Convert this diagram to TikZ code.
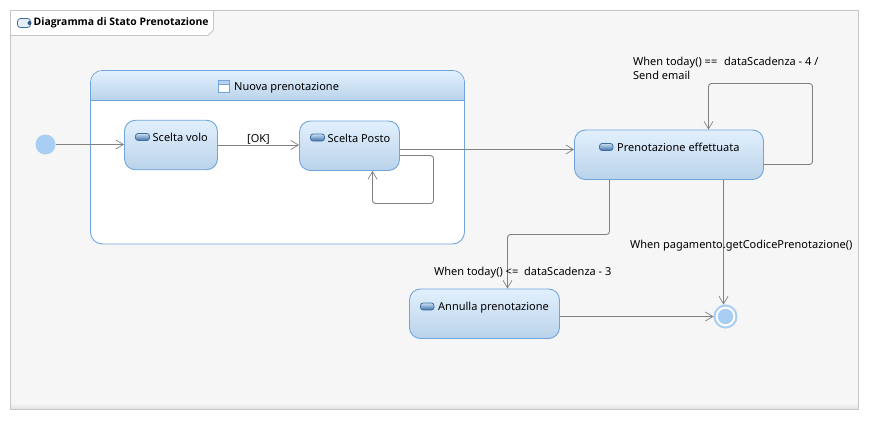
\documentclass[tikz,border=0pt]{standalone}
\usepackage{fontspec}
\setmainfont{Noto Sans}
\newfontfamily\titlefont{Open Sans}
\usetikzlibrary{arrows.meta}
\definecolor{frameline}{HTML}{C6C6C6}
\definecolor{framebg}{HTML}{F6F6F6}
\definecolor{stateline}{HTML}{6FA5DC}
\definecolor{gradtop}{HTML}{E2F0FD}
\definecolor{gradbot}{HTML}{BAD3EA}
\definecolor{conn}{HTML}{808080}
\definecolor{dot}{HTML}{A9CEF4}
\definecolor{icondark}{HTML}{3F6FA5}
\definecolor{iconlight}{HTML}{C9DFF3}
\tikzset{
  x=1pt,y=-1pt,
  statebox/.style={draw=stateline,line width=.9pt,rounded corners=11pt,top color=gradtop,bottom color=gradbot,minimum height=49.5pt,inner sep=0pt,text width=0pt},
  txt/.style={font=\fontsize{11}{13}\selectfont,text=black,inner sep=0pt,anchor=west},
  conn/.style={draw=conn,line width=.9pt,rounded corners=3pt},
  arr/.style={-{Straight Barb[length=7.5pt,width=9pt,line width=.7pt]}},
  pill/.style={draw=icondark,line width=.8pt,rounded corners=2.6pt,top color=iconlight,bottom color=icondark}
}
\begin{document}
\begin{tikzpicture}
\useasboundingbox (0,0) rectangle (869,420);
\fill[white] (0,0) rectangle (869,420);
\draw[draw=frameline,fill=framebg,line width=.9pt] (10.5,10.5) rectangle (858,409);
\shade[top color=framebg,bottom color=frameline!35!framebg] (11,403) rectangle (857.5,408.5);
\draw[draw=frameline,fill=white,line width=.9pt] (10.5,10.5) -- (213.5,10.5) -- (213.5,30) -- (208,35.5) -- (10.5,35.5) -- cycle;
\draw[draw=icondark,line width=.8pt,rounded corners=3pt,fill=iconlight!50!white] (17.5,18.5) rectangle (30.5,27.5);
\fill[icondark!80!black] (29.5,23) circle (2pt);
\node[txt,font=\titlefont\fontsize{10.4}{12}\selectfont\bfseries] (title) at (33.5,23) {Diagramma di Stato Prenotazione};

% composite state
\node[draw=stateline,fill=white,line width=.9pt,rounded corners=12pt,minimum width=374pt,minimum height=173.5pt,inner sep=0pt] (nuova) at (277.5,157.25) {};
\shade[top color=gradtop,bottom color=gradbot] (91,100.5) [rounded corners=11.5pt] -- (91,71) -- (464,71) [sharp corners] -- (464,100.5) -- cycle;
\draw[draw=stateline,line width=.9pt] (nuova.west |- 0,100.5) -- (nuova.east |- 0,100.5);
\draw[draw=stateline,line width=.8pt,fill=white] (218.5,80.5) rectangle (229.5,92.5);
\fill[gradbot] (218.9,81) rectangle (229.1,84.5);
\draw[draw=stateline,line width=.8pt] (218.5,84.5) -- (229.5,84.5);
\node[txt] (nuovat) at (234,87.5) {Nuova prenotazione};

% states
\node[statebox,minimum width=93pt] (volo) at (171,145) {};
\node[statebox,minimum width=100pt] (posto) at (349.5,145.75) {};
\node[statebox,minimum width=189pt] (pren) at (669,154.75) {};
\node[statebox,minimum width=150pt] (annulla) at (484.5,313.75) {};

\draw[pill] (135.5,133.5) rectangle (149.5,140.5);
\node[txt] (volot) at (152.5,137.5) {Scelta volo};
\draw[pill] (310.5,134) rectangle (324.5,141);
\node[txt] (postot) at (327.5,138.5) {Scelta Posto};
\draw[pill] (599.5,143.5) rectangle (613,150.5);
\node[txt] (prent) at (617,147.5) {Prenotazione effettuata};
\draw[pill] (420.5,303) rectangle (434,310);
\node[txt] (annullat) at (438,307.5) {Annulla prenotazione};

% pseudo states
\node[circle,fill=dot,minimum size=20pt,inner sep=0pt] (init) at (45.5,144.5) {};
\node[circle,draw=dot,line width=2pt,fill=white,minimum size=22pt,inner sep=0pt] (fin) at (725.5,316.5) {};
\node[circle,fill=dot,minimum size=15.5pt,inner sep=0pt] (finin) at (725.5,316.5) {};

% connectors
\draw[conn,arr] (init.east |- 0,144.5) -- (volo.west |- 0,144.5);
\draw[conn,arr] (volo.east |- 0,145) -- (posto.west |- 0,145);
\draw[conn,arr] (posto.east |- 0,149.5) -- (pren.west |- 0,149.5);
\draw[conn,arr] (posto.east |- 0,155.5) -- (433.5,155.5) -- (433.5,203.5) -- (372.5,203.5) -- (372.5,0 |- posto.south);
\draw[conn,arr] (pren.east |- 0,164.5) -- (812.5,164.5) -- (812.5,83.5) -- (708.5,83.5) -- (708.5,0 |- pren.north);
\draw[conn,arr] (609.5,0 |- pren.south) -- (609.5,234.5) -- (507.5,234.5) -- (507.5,0 |- annulla.north);
\draw[conn,arr] (723.5,0 |- pren.south) -- (723.5,0 |- fin.north);
\draw[conn,arr] (annulla.east |- 0,316.5) -- (fin.west |- 0,316.5);

% labels
\node[txt] (ok) at (247,139.5) {[OK]};
\node[txt] (l1) at (633,62.5) {When today() ==\hspace{4pt} dataScadenza - 4 /};
\node[txt] (l2) at (633,75.5) {Send email};
\node[txt] (l3) at (630,245.5) {When pagamento.getCodicePrenotazione()};
\node[txt] (l4) at (434,272.5) {When today() <=\hspace{3pt} dataScadenza - 3};
\end{tikzpicture}
\end{document}
